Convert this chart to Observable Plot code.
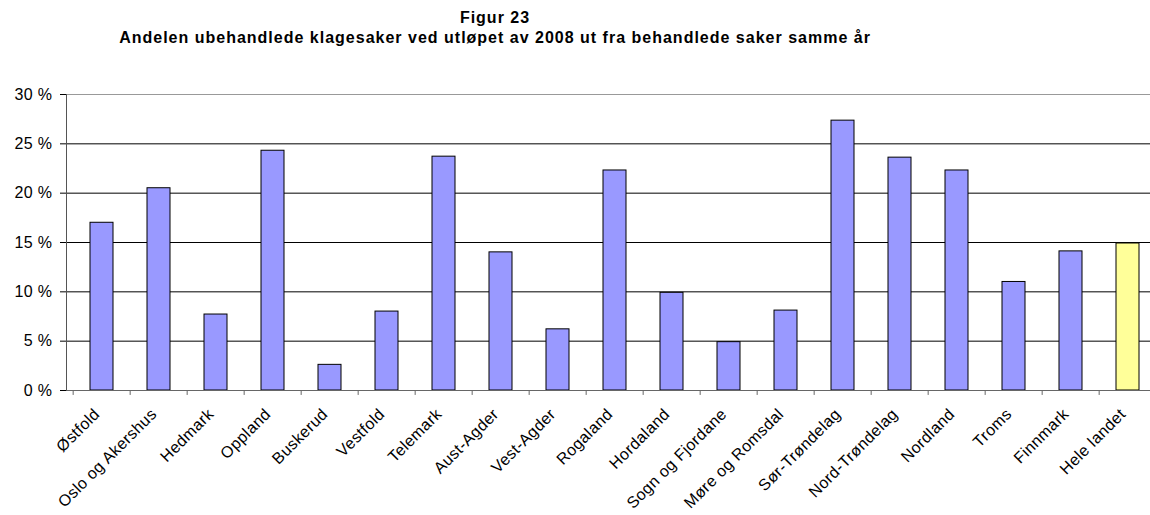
<!DOCTYPE html>
<html><head><meta charset="utf-8">
<script src="https://cdn.jsdelivr.net/npm/d3@7"></script>
<script src="https://cdn.jsdelivr.net/npm/@observablehq/plot@0.6"></script>
<style>
body{margin:0;background:#fff;font-family:"Liberation Sans",Arial,sans-serif;}
#title{height:60px;width:990px;text-align:center;font-weight:bold;font-size:16px;letter-spacing:1px;line-height:20px;padding-top:8px;box-sizing:border-box;color:#000;}
</style></head>
<body>
<div id="title"><div>Figur 23</div><div>Andelen ubehandlede klagesaker ved utløpet av 2008 ut fra behandlede saker samme år</div></div>
<div id="chart"></div>
<script>
const categories = ["Østfold","Oslo og Akershus","Hedmark","Oppland","Buskerud","Vestfold","Telemark","Aust-Agder","Vest-Agder","Rogaland","Hordaland","Sogn og Fjordane","Møre og Romsdal","Sør-Trøndelag","Nord-Trøndelag","Nordland","Troms","Finnmark","Hele landet"];
const values = [17.0,20.5,7.7,24.3,2.6,8.0,23.7,14.0,6.2,22.3,9.9,4.9,8.1,27.35,23.6,22.3,11.0,14.1,14.9];
const highlight = "Hele landet";
const yTicks = [0,5,10,15,20,25,30];
const gridTicks = [5,10,15,20,25];

const data = categories.map((c,i)=>({region:c, value:values[i]}));
const xLeft = 66, xRight = 1162;
const step = (xRight - xLeft) / categories.length;

const chart = Plot.plot({
  width: 1150, height: 455,
  marginTop: 34, marginBottom: 125, marginLeft: 66, marginRight: 0,
  style: {fontFamily: "'Liberation Sans', Arial, sans-serif", fontSize: "16px", color: "#000", background: "#fff", letterSpacing: "0.4px"},
  x: {domain: categories, range: [xLeft, xRight], paddingInner: 0.6, paddingOuter: 0.3, axis: null},
  y: {domain: [0, 30]},
  marks: [
    Plot.ruleY([30], {stroke: "#999"}),
    Plot.ruleY(gridTicks, {stroke: "#000"}),
    Plot.barY(data.filter(d => d.region !== highlight), {x: "region", y: "value", fill: "#9999FF", stroke: "#000", strokeWidth: 1}),
    Plot.barY(data.filter(d => d.region === highlight), {x: "region", y: "value", fill: "#FFFF99", stroke: "#000", strokeWidth: 1}),
    Plot.ruleY([0], {stroke: "#666"}),
    Plot.ruleX(categories, {x: d => d, dx: -step/2, y1: 0, y2: -0.5, stroke: "#666"}),
    Plot.frame({anchor: "left", stroke: "#555"}),
    Plot.axisY({ticks: yTicks, tickSize: 6, tickPadding: 8, label: null, tickFormat: d => d + " %", fontSize: 16}),
    Plot.text(categories, {x: d => d, y: 0, text: d => d, rotate: -45, textAnchor: "end", lineAnchor: "middle", dx: -5, dy: 21, fontSize: 16})
  ]
});
document.getElementById("chart").append(chart);
</script>
</body></html>
